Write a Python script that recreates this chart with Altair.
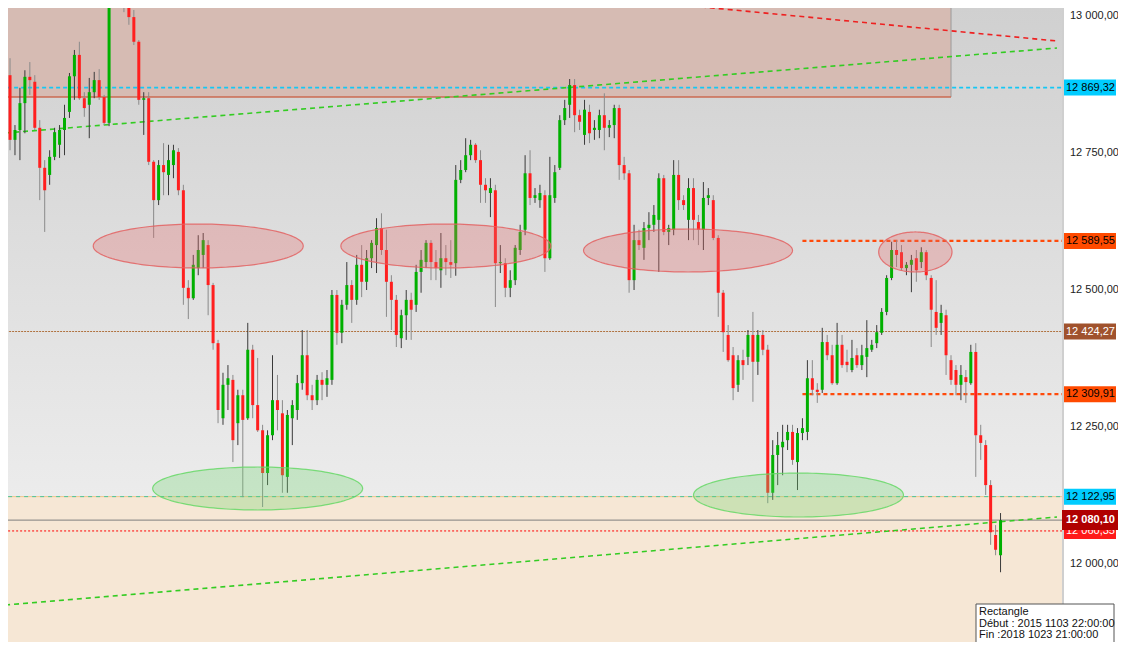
import altair as alt
import pandas as pd

# ---------------- data ----------------
OPEN = [12892, 12774, 12792, 12841, 12889, 12880, 12796, 12723, 12710, 12743,
        12765, 12792, 12825, 12890, 12929, 12850, 12838, 12861, 12883, 12852,
        12805, 13066, 13102, 13075, 13038, 12998, 12953, 12847, 12850, 12734,
        12664, 12728, 12710, 12728, 12752, 12682, 12504, 12485, 12540, 12564,
        12582, 12509, 12403, 12266, 12327, 12336, 12257, 12308, 12266, 12391,
        12290, 12244, 12166, 12235, 12299, 12275, 12159, 12266, 12281, 12330,
        12381, 12308, 12299, 12336, 12327, 12336, 12491, 12422, 12473, 12509,
        12482, 12546, 12515, 12558, 12582, 12613, 12573, 12515, 12482, 12412,
        12454, 12482, 12473, 12533, 12551, 12586, 12551, 12536, 12558, 12551,
        12549, 12701, 12719, 12746, 12765, 12737, 12692, 12677, 12682, 12549,
        12549, 12504, 12518, 12573, 12610, 12713, 12668, 12664, 12673, 12558,
        12668, 12723, 12810, 12838, 12874, 12819, 12783, 12825, 12792, 12792,
        12819, 12796, 12801, 12832, 12728, 12713, 12518, 12591, 12577, 12613,
        12619, 12628, 12704, 12606, 12610, 12710, 12664, 12628, 12686, 12624,
        12610, 12668, 12664, 12595, 12495, 12418, 12381, 12327, 12372, 12378,
        12418, 12369, 12418, 12391, 12130, 12199, 12213, 12226, 12241, 12186,
        12239, 12241, 12339, 12318, 12318, 12405, 12381, 12330, 12400, 12369,
        12354, 12381, 12363, 12378, 12391, 12403, 12422, 12460, 12522, 12573,
        12569, 12540, 12546, 12558, 12551, 12569, 12522, 12460, 12440, 12454,
        12372, 12354, 12327, 12341, 12330, 12387, 12235, 12217, 12144, 12053,
        12016]
CLOSE = [12774, 12792, 12841, 12889, 12883, 12796, 12723, 12682, 12743, 12788,
         12792, 12814, 12890, 12929, 12850, 12832, 12861, 12883, 12852, 12805,
         13066, 13102, 13075, 13038, 12998, 12953, 12847, 12850, 12734, 12664,
         12728, 12715, 12737, 12755, 12682, 12504, 12485, 12546, 12573, 12591,
         12509, 12403, 12281, 12327, 12339, 12226, 12308, 12263, 12391, 12290,
         12244, 12166, 12235, 12299, 12281, 12162, 12272, 12290, 12330, 12381,
         12308, 12299, 12336, 12327, 12339, 12491, 12422, 12473, 12509, 12482,
         12546, 12515, 12558, 12586, 12613, 12573, 12515, 12482, 12418, 12454,
         12482, 12464, 12533, 12555, 12586, 12551, 12540, 12558, 12551, 12546,
         12701, 12719, 12746, 12765, 12737, 12692, 12682, 12686, 12549, 12551,
         12504, 12518, 12577, 12606, 12713, 12668, 12673, 12677, 12558, 12673,
         12715, 12810, 12832, 12874, 12819, 12807, 12829, 12786, 12796, 12819,
         12796, 12801, 12832, 12728, 12713, 12518, 12591, 12582, 12613, 12619,
         12637, 12704, 12606, 12613, 12710, 12664, 12655, 12686, 12628, 12610,
         12668, 12673, 12595, 12495, 12423, 12372, 12321, 12372, 12363, 12418,
         12369, 12418, 12391, 12130, 12199, 12217, 12223, 12241, 12190, 12239,
         12248, 12339, 12318, 12314, 12405, 12381, 12330, 12400, 12363, 12363,
         12376, 12363, 12381, 12394, 12400, 12423, 12460, 12522, 12573, 12564,
         12540, 12546, 12555, 12536, 12569, 12527, 12464, 12431, 12458, 12381,
         12336, 12327, 12345, 12332, 12387, 12235, 12221, 12144, 12058, 12026,
         12080.10]
HIGH = [12923, 12801, 12869, 12901, 12916, 12892, 12810, 12737, 12755, 12796,
        12801, 12838, 12896, 12938, 12953, 12861, 12887, 12898, 12903, 12856,
        13084, 13129, 13120, 13093, 13051, 13011, 12956, 12861, 12861, 12737,
        12737, 12768, 12765, 12765, 12759, 12692, 12518, 12564, 12600, 12604,
        12591, 12513, 12409, 12349, 12363, 12345, 12318, 12318, 12440, 12400,
        12376, 12254, 12244, 12381, 12345, 12299, 12281, 12299, 12345, 12427,
        12427, 12327, 12345, 12350, 12354, 12500, 12500, 12482, 12551, 12518,
        12564, 12582, 12573, 12591, 12631, 12640, 12610, 12527, 12491, 12464,
        12500, 12495, 12546, 12573, 12591, 12591, 12573, 12604, 12582, 12591,
        12728, 12737, 12777, 12774, 12768, 12755, 12704, 12704, 12692, 12582,
        12558, 12536, 12582, 12619, 12746, 12755, 12686, 12692, 12682, 12743,
        12728, 12819, 12847, 12885, 12885, 12829, 12847, 12838, 12810, 12829,
        12859, 12810, 12838, 12838, 12743, 12719, 12619, 12610, 12624, 12642,
        12655, 12713, 12710, 12619, 12737, 12737, 12673, 12704, 12704, 12637,
        12697, 12686, 12673, 12600, 12500, 12436, 12396, 12381, 12391, 12427,
        12460, 12427, 12427, 12400, 12226, 12241, 12254, 12254, 12254, 12248,
        12266, 12372, 12372, 12330, 12431, 12418, 12400, 12440, 12418, 12391,
        12409, 12394, 12400, 12445, 12409, 12436, 12467, 12527, 12588, 12591,
        12582, 12551, 12564, 12573, 12578, 12573, 12527, 12518, 12473, 12464,
        12381, 12363, 12363, 12354, 12400, 12403, 12254, 12226, 12153, 12071,
        12093]
LOW = [12755, 12746, 12737, 12786, 12856, 12792, 12664, 12606, 12692, 12737,
       12741, 12746, 12814, 12847, 12847, 12816, 12777, 12850, 12847, 12801,
       12799, 13047, 13057, 13007, 12984, 12947, 12838, 12783, 12728, 12595,
       12655, 12673, 12673, 12704, 12673, 12473, 12447, 12482, 12527, 12540,
       12454, 12391, 12257, 12254, 12281, 12186, 12217, 12122, 12263, 12266,
       12241, 12104, 12144, 12226, 12244, 12130, 12130, 12217, 12263, 12318,
       12299, 12281, 12290, 12299, 12305, 12327, 12400, 12403, 12464, 12440,
       12473, 12487, 12500, 12540, 12531, 12564, 12451, 12427, 12396, 12394,
       12409, 12409, 12460, 12495, 12540, 12518, 12518, 12504, 12527, 12522,
       12526, 12695, 12715, 12737, 12732, 12659, 12659, 12633, 12469, 12531,
       12487, 12487, 12509, 12564, 12600, 12655, 12659, 12650, 12533, 12555,
       12659, 12719, 12801, 12814, 12788, 12792, 12765, 12768, 12774, 12777,
       12755, 12779, 12777, 12701, 12701, 12495, 12500, 12573, 12555, 12591,
       12606, 12533, 12600, 12582, 12600, 12646, 12646, 12591, 12591, 12582,
       12573, 12655, 12591, 12451, 12387, 12369, 12299, 12314, 12336, 12363,
       12296, 12345, 12381, 12111, 12117, 12144, 12162, 12208, 12181, 12135,
       12226, 12226, 12308, 12294, 12312, 12372, 12327, 12327, 12358, 12350,
       12350, 12358, 12354, 12341, 12387, 12394, 12418, 12454, 12518, 12542,
       12536, 12527, 12496, 12515, 12540, 12518, 12396, 12418, 12418, 12345,
       12327, 12308, 12299, 12294, 12327, 12159, 12190, 12126, 12035, 12016,
       11985]

AXIS_TICKS = [12000, 12250, 12500, 12750, 13000]

LEVEL_PRICE = [12869.32, 12589.55, 12424.27, 12309.91, 12122.95, 12060.35, 12080.10]
LEVEL_START = [-2, 160, -2, 160, -2, -2, -2]
LEVEL_END = [215, 215, 215, 215, 215, 215, 215]

TREND_X0 = [-1, -1, 125]
TREND_P0 = [12786.5, 11925.2, 13029.2]
TREND_X1 = [211.4, 211.4, 211.4]
TREND_P1 = [12941.6, 12085.8, 12954.4]

ZONE_X = [-2, 190]
ZONE_P = [12852.2, 13200]
LOW_ZONE_X = [-2, 220]
LOW_ZONE_P = [11700, 12122.95]

ELL_CX = [38, 88, 136.9, 182.8, 50, 159.2]
ELL_CY = [12580.3, 12580.3, 12572.1, 12569.4, 12137.8, 12125.9]
ELL_RX = [21.2, 21.2, 21.1, 7.4, 21.2, 21.2]
ELL_RY = [40.1, 40.1, 39.2, 36.5, 39.2, 40.1]
ELL_KIND = ["res", "res", "res", "res", "sup", "sup"]

INFO_LINES = ["Rectangle", "Début : 2015 1103 22:00:00", "Fin :2018 1023 21:00:00"]

# ---------------- layout / styles ----------------
W, H = 1054, 634
X_DOM = [0.6, 211.4]
Y_DOM = [11857.7, 13014.6]
PX = (Y_DOM[1] - Y_DOM[0]) / H
FONT = "Liberation Sans"
xs = alt.Scale(domain=X_DOM, nice=False, zero=False)
ys = alt.Scale(domain=Y_DOM, nice=False, zero=False)
LBL = "replace(replace(format({v}, ',.2f'), ',', ' '), '.', ',')"

one = pd.DataFrame({"a": [1]})

def X(f):
    return alt.X(f, type="quantitative", scale=xs, axis=None)

def Y(f):
    return alt.Y(f, type="quantitative", scale=ys, axis=None)

layers = []

# background gradient
layers.append(alt.Chart(one).mark_rect(
    fill=alt.Gradient(gradient="linear",
                      stops=[alt.GradientStop(offset=0, color="#d0d0d0"),
                             alt.GradientStop(offset=1, color="#f4f4f4")],
                      x1=0, x2=0, y1=0, y2=1)
).encode(x=alt.value(0), x2=alt.value(W), y=alt.value(0), y2=alt.value(H)))

# zones
zone = pd.DataFrame({"x0": [ZONE_X[0]], "x1": [ZONE_X[1]], "p0": [ZONE_P[0]], "p1": [ZONE_P[1]]})
layers.append(alt.Chart(zone).mark_rect(fill="#d6bbb3", stroke="#9a9a9a", strokeWidth=1, clip=True)
              .encode(x=X("x0"), x2="x1", y=Y("p0"), y2="p1"))
layers.append(alt.Chart(zone).mark_rule(color="#e4532e", strokeWidth=1, clip=True)
              .encode(x=X("x0"), x2="x1", y=Y("p0")))
lzone = pd.DataFrame({"x0": [LOW_ZONE_X[0]], "x1": [LOW_ZONE_X[1]],
                      "p0": [LOW_ZONE_P[0]], "p1": [LOW_ZONE_P[1]]})
layers.append(alt.Chart(lzone).mark_rect(fill="#f6e7d5", clip=True)
              .encode(x=X("x0"), x2="x1", y=Y("p0"), y2="p1"))

# horizontal levels
level_styles = [
    [dict(color="#14c8f5", strokeDash=[4, 3], strokeWidth=1.6)],
    [dict(color="#ff4a0a", strokeDash=[4, 3], strokeWidth=2.2)],
    [dict(color="#b0723f", strokeDash=[2, 1], strokeWidth=1)],
    [dict(color="#ff4a0a", strokeDash=[4, 3], strokeWidth=2.2)],
    [dict(color="#f2c58c", strokeWidth=1), dict(color="#47c49c", strokeDash=[4, 4], strokeWidth=1)],
    [dict(color="#ff0000", strokeDash=[2, 2], strokeWidth=1)],
    [dict(color="#7e7e7e", strokeWidth=1)],
]
for k, p in enumerate(LEVEL_PRICE):
    d = pd.DataFrame({"x0": [LEVEL_START[k]], "x1": [LEVEL_END[k]], "p": [p]})
    for st in level_styles[k]:
        layers.append(alt.Chart(d).mark_rule(clip=True, **st)
                      .encode(x=X("x0"), x2="x1", y=Y("p")))

# trend lines
trend_colors = ["#33cc22", "#33cc22", "#ee2020"]
tr = pd.DataFrame({"x0": TREND_X0, "p0": TREND_P0, "x1": TREND_X1, "p1": TREND_P1, "col": trend_colors})
layers.append(alt.Chart(tr).mark_rule(strokeDash=[5, 4], strokeWidth=1.6, clip=True)
              .encode(x=X("x0"), x2="x1", y=Y("p0"), y2="p1", color=alt.Color("col:N", scale=None)))

# candles
candles = pd.DataFrame({"i": range(len(CLOSE)), "o": OPEN, "h": HIGH, "l": LOW, "c": CLOSE})
cbase = alt.Chart(candles).transform_calculate(
    body="datum.c >= datum.o ? '#00b000' : '#ff1f1f'",
    wick="datum.c >= datum.o ? '#3a3a3a' : '#8a8a8a'",
)
layers.append(cbase.mark_rule(strokeWidth=1, clip=True).encode(
    x=X("i"), y=Y("l"), y2="h", color=alt.Color("wick:N", scale=None)))
layers.append(cbase.mark_bar(size=3, orient="vertical", clip=True).encode(
    x=X("i"), y=Y("o"), y2="c", color=alt.Color("body:N", scale=None)))

# ellipses
ell = pd.DataFrame({"id": range(len(ELL_CX)), "cx": ELL_CX, "cy": ELL_CY, "rx": ELL_RX,
                    "ry": ELL_RY, "kind": ELL_KIND})
layers.append(alt.Chart(ell).transform_calculate(
    k="sequence(0, 73)"
).transform_flatten(["k"]).transform_calculate(
    t="PI * datum.k / 72",
    ex="datum.cx - datum.rx * cos(datum.t)",
    ey1="datum.cy + datum.ry * sin(datum.t)",
    ey2="datum.cy - datum.ry * sin(datum.t)",
    fc="datum.kind == 'res' ? '#e46a6a' : '#6ed46e'",
    sc="datum.kind == 'res' ? '#e36262' : '#66d866'",
).mark_area(fillOpacity=0.3, strokeOpacity=0.85, strokeWidth=1.2, clip=True).encode(
    x=X("ex"), y=Y("ey1"), y2="ey2", detail="id:N",
    fill=alt.Fill("fc:N", scale=None), stroke=alt.Stroke("sc:N", scale=None)))

# right border of plot
layers.append(alt.Chart(one).mark_rule(color="#cfcfcf", strokeWidth=2)
              .encode(x=alt.value(W + 1), y=alt.value(0), y2=alt.value(H)))

# price axis labels (right side)
ticks = pd.DataFrame({"v": AXIS_TICKS})
layers.append(alt.Chart(ticks).transform_calculate(label=LBL.format(v="datum.v")).mark_text(
    align="left", baseline="middle", font=FONT, fontSize=11, color="#222222", clip=False
).encode(x=alt.value(W + 8), y=Y("v"), text="label:N"))

# price tags
tag_bg = ["#00ccff", "#ff4a00", "#a0522d", "#ff4a00", "#00ccff", "#ff1a1a"]
tag_fg = ["#000000", "#000000", "#ffffff", "#000000", "#000000", "#ffffff"]
tags = pd.DataFrame({"p": LEVEL_PRICE[:6], "bg": tag_bg, "fg": tag_fg})
tbase = alt.Chart(tags).transform_calculate(
    lo=f"datum.p - {8 * PX}", hi=f"datum.p + {8 * PX}", label=LBL.format(v="datum.p"))
layers.append(tbase.mark_rect(clip=False).encode(
    x=alt.value(W + 2), x2=alt.value(W + 54), y=Y("lo"), y2="hi",
    color=alt.Color("bg:N", scale=None)))
layers.append(tbase.mark_text(align="left", baseline="middle", font=FONT, fontSize=11, clip=False).encode(
    x=alt.value(W + 4), y=Y("p"), text="label:N", color=alt.Color("fg:N", scale=None)))

cur = pd.DataFrame({"p": [LEVEL_PRICE[6]]})
cbase2 = alt.Chart(cur).transform_calculate(
    lo=f"datum.p - {10 * PX}", hi=f"datum.p + {10 * PX}", label=LBL.format(v="datum.p"))
layers.append(cbase2.mark_rect(fill="#b00000", clip=False).encode(
    x=alt.value(W), x2=alt.value(W + 64), y=Y("lo"), y2="hi"))
layers.append(cbase2.mark_text(align="left", baseline="middle", font=FONT, fontSize=11,
                               fontWeight="bold", color="#ffffff", clip=False).encode(
    x=alt.value(W + 4), y=Y("p"), text="label:N"))

# info box
layers.append(alt.Chart(one).mark_rect(fill="#ffffff", stroke="#555555", strokeWidth=1, clip=False)
              .encode(x=alt.value(968), x2=alt.value(1106), y=alt.value(596), y2=alt.value(640)))
for n, line in enumerate(INFO_LINES):
    layers.append(alt.Chart(pd.DataFrame({"t": [line]})).mark_text(
        align="left", baseline="middle", font=FONT, fontSize=11, color="#111111", clip=False
    ).encode(x=alt.value(971), y=alt.value(604 + 11.5 * n), text="t:N"))

chart = alt.layer(*layers).properties(
    width=W, height=H,
    autosize=alt.AutoSizeParams(type="none"),
    padding={"left": 0, "top": 0, "right": 56, "bottom": 0},
    background="#ffffff",
).configure_view(stroke=None)

chart.save("out.html", embed_options={"renderer": "svg", "actions": False})
